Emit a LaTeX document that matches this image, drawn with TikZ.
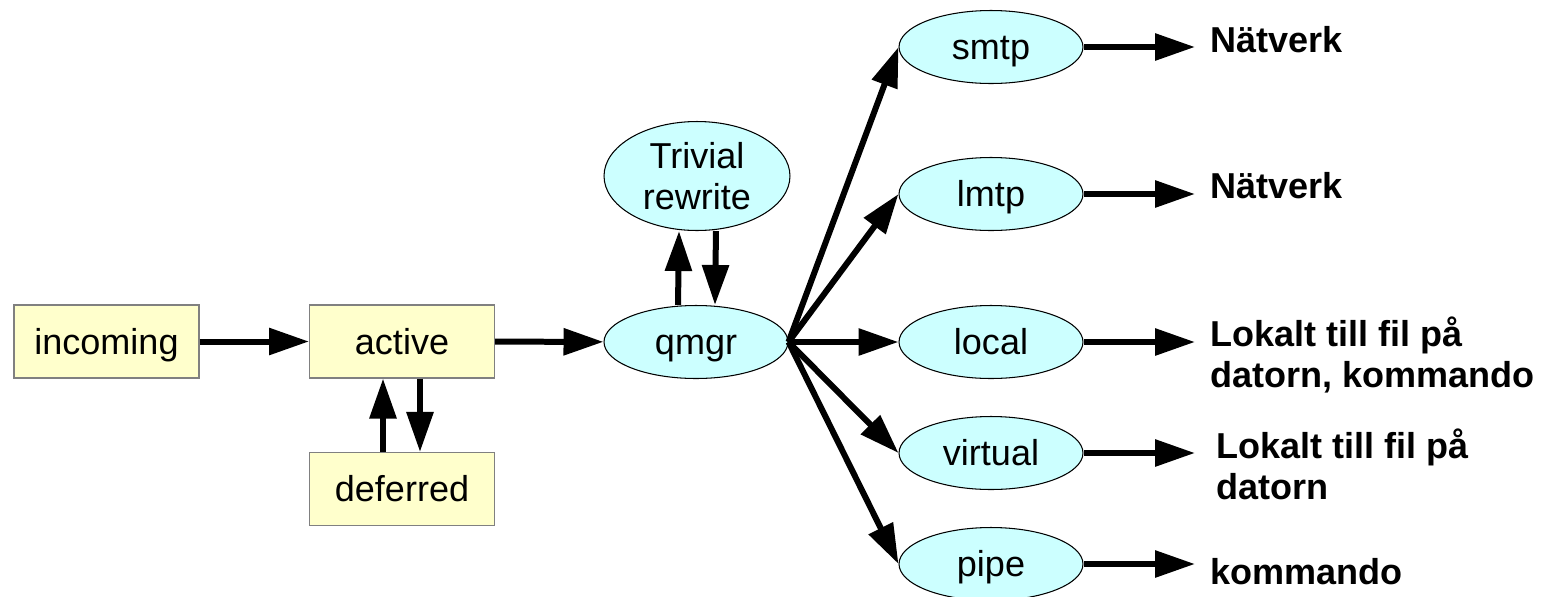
\documentclass[tikz,border=0pt]{standalone}
\usepackage{fontspec}
\setmainfont{Liberation Sans}
\usetikzlibrary{arrows.meta,shapes.geometric}
\definecolor{queuefill}{HTML}{FFFFCC}
\definecolor{queueline}{HTML}{808080}
\definecolor{agentfill}{HTML}{CCFFFF}
\tikzset{
  queue/.style={draw=queueline, line width=0.6pt, fill=queuefill, rectangle,
    minimum width=3.7cm, minimum height=1.46cm, inner sep=0pt,
    text height=17.4pt, text depth=2.8pt,
    font=\fontsize{20.5}{23}\selectfont},
  proc/.style={draw=black, line width=0.6pt, fill=agentfill, ellipse,
    minimum width=3.68cm, minimum height=1.46cm, inner sep=0pt,
    text height=17.4pt, text depth=2.8pt,
    font=\fontsize{20.5}{23}\selectfont},
  dest/.style={anchor=west, align=left, inner sep=0pt,
    font=\fontsize{20.5}{23.5}\selectfont\bfseries},
  flow/.style={line width=0.12cm, -{Triangle[length=0.8cm,width=0.52cm]}}
}
\begin{document}
\begin{tikzpicture}[x=0.02cm,y=-0.02cm]
\useasboundingbox (0,0) rectangle (1552,596);

% queues
\node[queue] (incoming) at (106.5,341.5) {incoming};
\node[queue] (active)   at (402,341.5)   {active};
\node[queue] (deferred) at (402,489)     {deferred};

% queue manager and address rewriting
\node[proc] (qmgr) at (696,342) {qmgr};
\node[proc, minimum width=3.72cm, minimum height=2.18cm, align=center,
      text height=, text depth=] (trivial) at (697,176) {Trivial\\rewrite};

% delivery agents
\node[proc] (smtp)    at (991,47)  {smtp};
\node[proc] (lmtp)    at (991,194) {lmtp};
\node[proc] (local)   at (991,342) {local};
\node[proc] (virtual) at (991,453) {virtual};
\node[proc] (pipe)    at (991,564) {pipe};

% destinations
\coordinate (smtpend)    at (1195,47);
\coordinate (lmtpend)    at (1195,194);
\coordinate (localend)   at (1195,342);
\coordinate (virtualend) at (1195,453);
\coordinate (pipeend)    at (1195,564);
\node[dest] (smtplab)    at (1210,40)  {Nätverk};
\node[dest] (lmtplab)    at (1210,186) {Nätverk};
\node[dest] (locallab)   at (1210,355) {Lokalt till fil på\\datorn, kommando};
\node[dest] (virtuallab) at (1216,464) {Lokalt till fil på\\datorn};
\node[dest] (pipelab)    at (1210,572) {kommando};

% queue flow
\draw[flow] (incoming) -- (active);
\draw[flow] (active) -- (qmgr);
\draw[flow] ([xshift=-0.38cm]deferred.north) -- ([xshift=-0.38cm]active.south);
\draw[flow] ([xshift=0.36cm]active.south) -- ([xshift=0.36cm]deferred.north);
\draw[flow] ([xshift=-0.36cm]qmgr.north) -- ([xshift=-0.36cm]trivial.south);
\draw[flow] ([xshift=0.38cm]trivial.south) -- ([xshift=0.38cm]qmgr.north);

% fan-out to delivery agents
\foreach \a in {smtp,lmtp,local,virtual,pipe}{
  \draw[flow] (qmgr.east) -- (\a.west);
  \draw[flow] (\a.east) -- (\a end);
}
\end{tikzpicture}
\end{document}
